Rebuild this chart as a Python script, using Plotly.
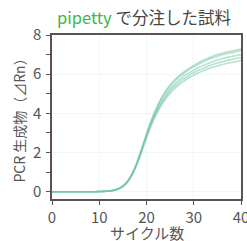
import plotly.graph_objects as go

cycles = list(range(0, 41))

run_a = [0, 0, 0, 0, 0, 0, 0, 0, 0, 0, 0.01, 0.02, 0.04, 0.07, 0.14, 0.28, 0.52, 0.92, 1.48, 2.18, 2.92, 3.62, 4.22, 4.72, 5.12, 5.45, 5.72, 5.94, 6.13, 6.3, 6.45, 6.59, 6.71, 6.82, 6.92, 7.0, 7.07, 7.13, 7.18, 7.23, 7.28]
run_b = [0, 0, 0, 0, 0, 0, 0, 0, 0, 0, 0.01, 0.02, 0.04, 0.07, 0.15, 0.3, 0.55, 0.95, 1.52, 2.22, 2.95, 3.63, 4.2, 4.68, 5.07, 5.39, 5.65, 5.87, 6.06, 6.23, 6.38, 6.51, 6.63, 6.74, 6.84, 6.92, 6.99, 7.05, 7.1, 7.15, 7.2]
run_c = [0, 0, 0, 0, 0, 0, 0, 0, 0, 0, 0.01, 0.02, 0.04, 0.08, 0.15, 0.3, 0.54, 0.93, 1.48, 2.15, 2.85, 3.5, 4.06, 4.53, 4.92, 5.24, 5.5, 5.72, 5.91, 6.07, 6.21, 6.34, 6.45, 6.55, 6.64, 6.72, 6.79, 6.85, 6.9, 6.95, 7.0]
run_d = [0, 0, 0, 0, 0, 0, 0, 0, 0, 0, 0.01, 0.02, 0.04, 0.07, 0.14, 0.28, 0.51, 0.9, 1.45, 2.12, 2.82, 3.46, 4.0, 4.45, 4.83, 5.14, 5.39, 5.6, 5.78, 5.94, 6.08, 6.2, 6.31, 6.41, 6.5, 6.57, 6.64, 6.7, 6.75, 6.8, 6.85]
run_e = [0, 0, 0, 0, 0, 0, 0, 0, 0, 0, 0.01, 0.02, 0.03, 0.06, 0.13, 0.26, 0.49, 0.87, 1.4, 2.06, 2.75, 3.38, 3.91, 4.35, 4.72, 5.02, 5.27, 5.48, 5.66, 5.82, 5.95, 6.07, 6.18, 6.27, 6.35, 6.42, 6.49, 6.55, 6.6, 6.65, 6.7]

runs = [run_a, run_b, run_c, run_d, run_e]

fig = go.Figure()
for r in runs:
    fig.add_trace(go.Scatter(x=cycles, y=r, mode="lines", line=dict(color="rgba(110,198,160,0.5)", width=1.6, shape="spline"), showlegend=False, hoverinfo="skip"))

axis_common = dict(
    showline=True, linecolor="#5e5250", linewidth=1.5, mirror=True,
    ticks="outside", ticklen=4, tickcolor="#5e5250",
    tickfont=dict(family="Noto Sans CJK JP", size=15, color="#555555"),
    zeroline=False, automargin=False,
)

fig.update_xaxes(range=[0, 40], tickvals=[0, 10, 20, 30, 40], showgrid=True, gridcolor="#f1f7f8",
                 ticklabeloverflow="allow",
                 **axis_common)
fig.update_yaxes(range=[-0.37, 8], tickvals=[0, 2, 4, 6, 8], showgrid=True, gridcolor="#f1f7f8",
                 minor=dict(ticks="outside", ticklen=4, dtick=1, tickcolor="#5e5250", showgrid=False),
                 ticklabelstandoff=2,
                 title=dict(text="PCR 生成物（⊿Rn）", font=dict(family="Noto Sans CJK JP", size=14, color="#555555"), standoff=4),
                 **axis_common)

fig.update_layout(
    width=247, height=241,
    margin=dict(l=52, r=6, t=35, b=42),
    paper_bgcolor="white", plot_bgcolor="white",
    title=dict(text="<span style='color:#3db54a'>pipetty</span> で分注した試料",
               font=dict(family="Noto Sans CJK JP", size=16.5, color="#444444"),
               x=0.231, xanchor="left", y=0.925, yanchor="middle", yref="container"),
    annotations=[dict(text="サイクル数", xref="paper", yref="paper", x=0.5, y=-0.207,
                      xanchor="center", yanchor="middle", showarrow=False,
                      font=dict(family="Noto Sans CJK JP", size=15, color="#555555"))],
)

fig.write_html("out.html", config={"displayModeBar": False},
               post_script="document.body.style.margin='0';document.body.style.padding='0';document.body.style.overflow='hidden';")
